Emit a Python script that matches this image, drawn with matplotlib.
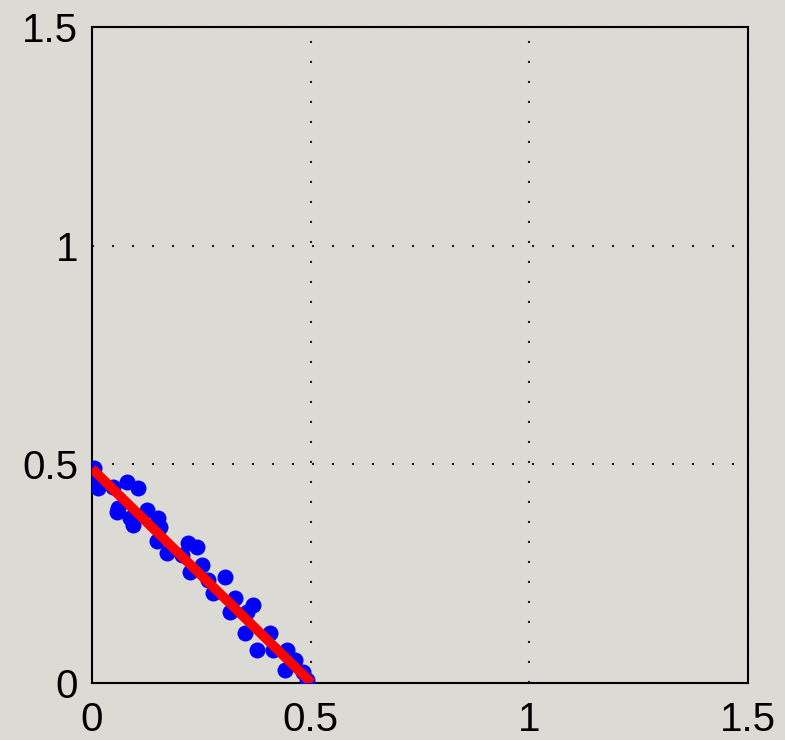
import matplotlib.pyplot as plt

plt.rcParams['font.family'] = ['Liberation Sans', 'DejaVu Sans']

# scattered samples
pts_x = [0.005, 0.002, 0.014, 0.048, 0.080, 0.105, 0.059, 0.057, 0.087, 0.094,
         0.126, 0.151, 0.155, 0.149, 0.171, 0.206, 0.219, 0.240, 0.251, 0.224,
         0.265, 0.304, 0.277, 0.327, 0.315, 0.368, 0.354, 0.350, 0.377, 0.407,
         0.414, 0.446, 0.464, 0.441, 0.482, 0.491]
pts_y = [0.491, 0.478, 0.446, 0.448, 0.459, 0.446, 0.400, 0.391, 0.377, 0.361,
         0.395, 0.377, 0.357, 0.325, 0.297, 0.293, 0.320, 0.311, 0.270, 0.254,
         0.235, 0.242, 0.206, 0.194, 0.162, 0.178, 0.162, 0.114, 0.075, 0.114,
         0.075, 0.075, 0.053, 0.030, 0.025, 0.007]

# fitted line
fit_x = [0.0, 0.502]
fit_y = [0.49, 0.0]

ticks = [0, 0.5, 1, 1.5]
tick_labels = ['0', '0.5', '1', '1.5']

bg = '#dcdad5'
fig = plt.figure(figsize=(7.85, 7.4), dpi=100, facecolor=bg)
ax = fig.add_axes([0.1172, 0.077, 0.8357, 0.8865])
ax.set_facecolor(bg)

ax.plot(pts_x, pts_y, 'o', color='#0000ff', markersize=11.5, markeredgewidth=0, zorder=3)
ax.plot(fit_x, fit_y, '-', color='#ff0000', linewidth=7, solid_capstyle='butt', zorder=4)

ax.set_xlim(0, 1.5)
ax.set_ylim(0, 1.5)
ax.set_xticks(ticks)
ax.set_yticks(ticks)
ax.set_xticklabels(tick_labels)
ax.set_yticklabels(tick_labels)
ax.tick_params(length=0, labelsize=29)
ax.tick_params(axis='x', pad=13)
ax.tick_params(axis='y', pad=10)
ax.grid(True, color='#222222', linestyle=(0, (1, 8.6)), linewidth=1.5)
for s in ax.spines.values():
    s.set_linewidth(1.5)

fig.savefig('out.png', dpi=100, facecolor=bg)
